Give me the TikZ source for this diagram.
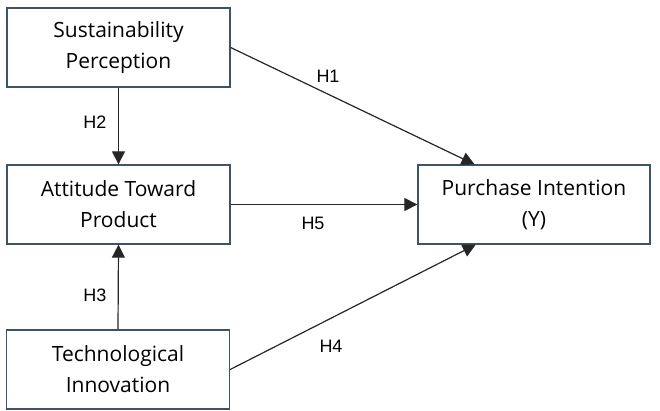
\documentclass[tikz,border=0pt]{standalone}
\usepackage{fontspec}
\setmainfont{Liberation Sans}
\newfontfamily\boxfont{Open Sans}
\usepackage{xcolor}
\usetikzlibrary{arrows.meta,calc}

\definecolor{boxline}{HTML}{3E5366}

\tikzset{
  varbox/.style={draw=boxline,line width=1.3pt,fill=white,inner sep=0pt,
    minimum width=223pt,minimum height=79pt,align=center,
    font=\boxfont\fontsize{21}{31}\selectfont},
  path/.style={draw=black!85,line width=1.2pt,-{Triangle[length=13pt,width=13pt]}},
  hyp/.style={font=\fontsize{18}{20}\selectfont}
}

\begin{document}
\begin{tikzpicture}[x=1pt,y=-1pt]
  \useasboundingbox (0,0) rectangle (660,410);
  \node[varbox] (sp) at (118.5,47.5) {Sustainability\\Perception};
  \node[varbox] (atp) at (118.5,204.5) {Attitude Toward\\Product};
  \node[varbox] (ti) at (118,369.5) {Technological\\Innovation};
  \node[varbox,minimum width=232pt] (pi) at (534,204.5) {Purchase Intention\\(Y)};
  \coordinate (piTop) at ($(pi.north west)!0.245!(pi.north east)$);
  \coordinate (piBot) at ($(pi.south west)!0.25!(pi.south east)$);
  % hypothesised paths
  \draw[path] (sp.east) -- (piTop);
  \draw[path] (sp.south) -- (atp.north);
  \draw[path] (ti.north) -- (atp.south);
  \draw[path] (atp.east) -- (pi.west);
  \draw[path] (ti.east) -- (piBot);
  \node[hyp] (h1) at (328,76) {H1};
  \node[hyp] (h2) at (95,122) {H2};
  \node[hyp] (h3) at (95,295) {H3};
  \node[hyp] (h4) at (331,346) {H4};
  \node[hyp] (h5) at (313,223) {H5};
\end{tikzpicture}
\end{document}
